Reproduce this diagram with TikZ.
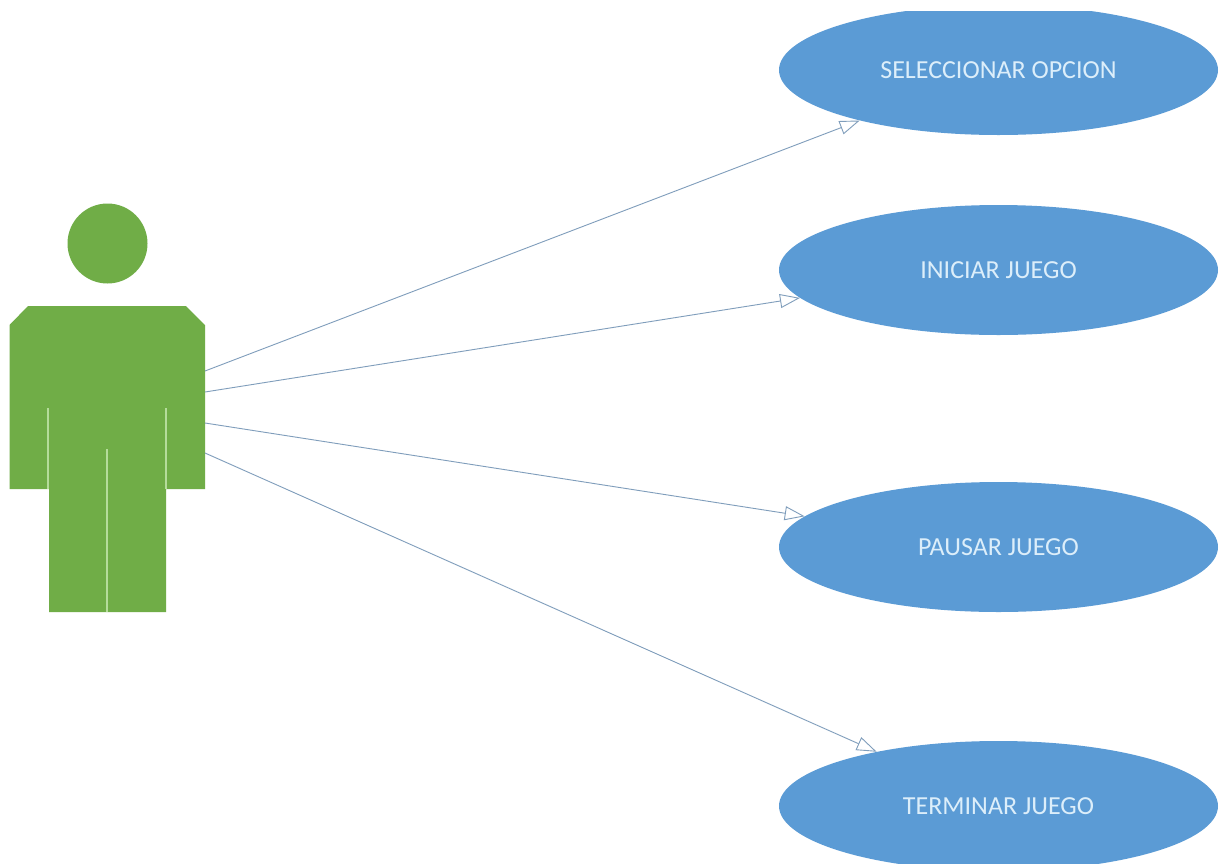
\documentclass[tikz,border=0pt]{standalone}
\usepackage{fontspec}
\setmainfont{Carlito}
\usetikzlibrary{arrows.meta,shapes.geometric}
\definecolor{ublue}{HTML}{5B9BD5}
\definecolor{ugreen}{HTML}{70AD47}
\definecolor{ulight}{HTML}{B5DC9B}
\definecolor{uline}{HTML}{7F9DBB}
\definecolor{utext}{HTML}{DCEEFA}
\tikzset{
  usecase/.style={ellipse,fill=ublue,draw=none,inner sep=0pt,minimum width=439pt,minimum height=130pt,text=utext,font=\fontsize{26}{28}\selectfont},
  figure/.style={fill=ugreen,draw=none},
  seam/.style={draw=ulight,line width=2pt},
  assoc/.style={draw=uline,line width=0.9pt,-{Triangle[open,length=20pt,width=14pt,fill=white]}}
}
\begin{document}
\begin{tikzpicture}[x=1pt,y=-1pt]
\clip (0,0) rectangle (1219,863);
\fill[white] (0,0) rectangle (1219,863);
\node[usecase] (e1) at (998.5,70) {SELECCIONAR OPCION};
\node[usecase] (e2) at (998.5,270) {INICIAR JUEGO};
\node[usecase] (e3) at (998.5,547) {PAUSAR JUEGO};
\node[usecase] (e4) at (998.5,806) {TERMINAR JUEGO};
\fill[white] (770,0) rectangle (1219,11);
\node[circle,fill=ugreen,inner sep=0pt,minimum size=80pt] (head) at (107.5,243.5) {};
\path[figure] (9.5,325) -- (28,306) -- (186,306) -- (205,325) -- (205,489) -- (166,489) -- (166,612) -- (49,612) -- (49,489) -- (9.5,489) -- cycle;
\draw[seam] (48,408) -- (48,489);
\draw[seam] (166,408) -- (166,489);
\draw[seam] (107,449) -- (107,612);
\coordinate (p1) at (205,371);
\coordinate (p2) at (205,392);
\coordinate (p3) at (205,423);
\coordinate (p4) at (205,453);
\draw[assoc] (p1) -- (e1.200.85);
\draw[assoc] (p2) -- (e2.188.15);
\draw[assoc] (p3) -- (e3.171);
\draw[assoc] (p4) -- (e4.156.4);
\end{tikzpicture}
\end{document}
